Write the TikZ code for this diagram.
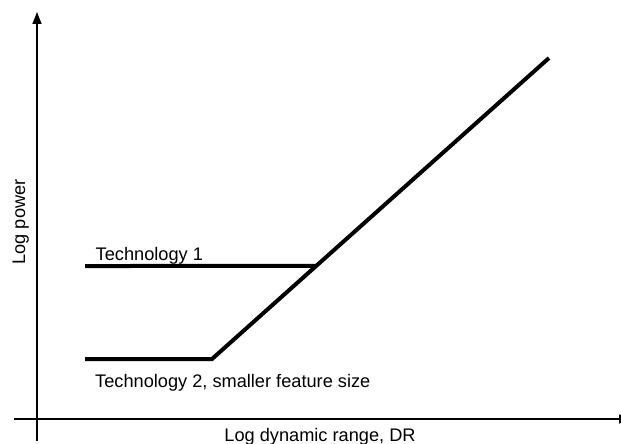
\documentclass[tikz,border=0pt]{standalone}
\usepackage{fontspec}
\setmainfont{Liberation Sans}
\usetikzlibrary{arrows.meta}
\begin{document}
\begin{tikzpicture}[x=1pt,y=-1pt,
  axis/.style={line width=1.4pt,-{Triangle[length=12pt,width=9pt]}},
  curve/.style={line width=4pt},
  lbl/.style={inner sep=0pt,font=\fontsize{18.2}{22}\selectfont}]
\useasboundingbox (0,0) rectangle (621,444);
% axes
\coordinate (yb) at (37,441);
\coordinate (yt) at (37,12);
\coordinate (xl) at (14,419);
\coordinate (xr) at (631,419);
\draw[axis] (yb) -- (yt);
\draw[axis] (xl) -- (xr);
% curves
\coordinate (t2s) at (85,359);
\coordinate (knee) at (212,359);
\coordinate (top) at (549,58);
\coordinate (t1s) at (85,266);
\coordinate (t1ref) at (400,266);
\coordinate (t1e) at (intersection of t1s--t1ref and knee--top);
\draw[curve] (t2s) -- (knee) -- (top);
\draw[curve] (t1s) -- (t1e);
% labels
\node[lbl,anchor=base west] (l1) at (95.5,260.5) {Technology 1};
\node[lbl,anchor=base west] (l2) at (95,387) {Technology 2, smaller feature size};
\node[lbl,anchor=base] (lx) at (320,441) {Log dynamic range, DR};
\node[lbl,anchor=base,rotate=90] (ly) at (25,222) {Log power};
\end{tikzpicture}
\end{document}
